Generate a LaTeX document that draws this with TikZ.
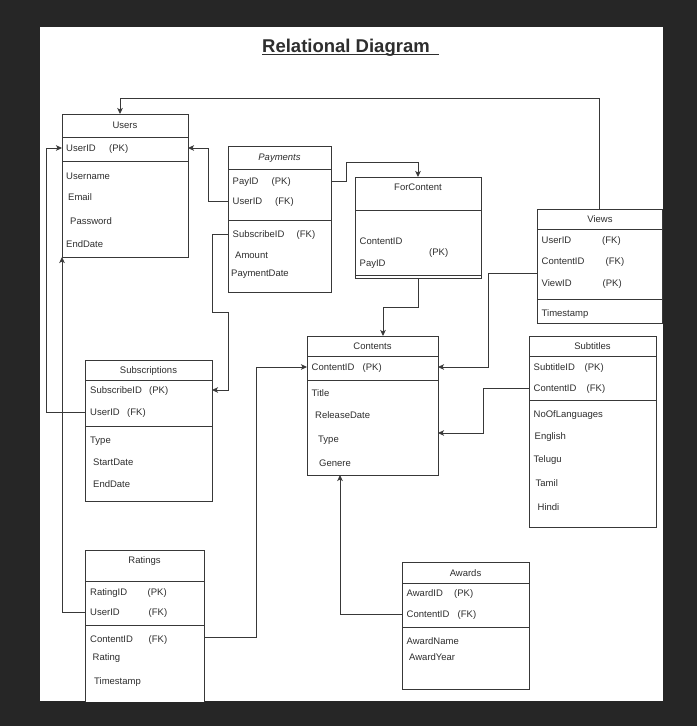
\documentclass[tikz,border=0pt]{standalone}
\usepackage{fontspec}
\setmainfont{Liberation Sans}
\usetikzlibrary{arrows.meta}
\definecolor{bgdark}{HTML}{262626}
\definecolor{ink}{HTML}{2E2E2E}
\definecolor{wire}{HTML}{383838}
\newcommand\tblsep[2]{\draw[sepl] (#1.west |- 0,#2) -- (#1.east |- 0,#2);}
\begin{document}
\begin{tikzpicture}[x=1pt,y=-1pt,
  tbox/.style 2 args={draw=wire,line width=0.9pt,fill=white,anchor=north west,inner sep=0pt,outer sep=0pt,minimum width=#1pt,minimum height=#2pt},
  fld/.style={anchor=west,inner sep=0pt,font=\fontsize{9.5}{11}\selectfont,text=ink,text height=6.8pt,text depth=0pt},
  hdr/.style={inner sep=0pt,font=\fontsize{9.5}{11}\selectfont,text=ink,text height=6.8pt,text depth=0pt},
  sepl/.style={draw=wire,line width=0.9pt},
  conn/.style={draw=wire,line width=0.9pt,-{Stealth[length=6pt,width=5.5pt,inset=1.5pt]}}]
\useasboundingbox (0,0) rectangle (697,726);
\fill[bgdark] (0,0) rectangle (697,726);
\fill[white] (40,27) rectangle (663,701);
\begin{scope}
\clip (40,27) rectangle (663,701);
% title
\node[anchor=base west,inner sep=0pt,font=\fontsize{18.5}{22}\selectfont\bfseries,text=ink] (title) at (262,52.5) {Relational Diagram};
\draw[ink,line width=1.3pt] ([yshift=-2.2pt]title.base west) -- ++(177,0);

% ---------------- Users
\node[tbox={126}{143}] (users) at (62,114) {};
\tblsep{users}{137.5}\tblsep{users}{161.5}
\node[hdr] (usersh) at (125,125.5) {Users};
\node[fld] (users-uid) at (66,148) {UserID};
\node[fld] (users-uidk) at (109,148) {(PK)};
\node[fld] (users-un) at (66,176) {Username};
\node[fld] (users-em) at (68,197) {Email};
\node[fld] (users-pw) at (70,221) {Password};
\node[fld] (users-ed) at (66,244) {EndDate};

% ---------------- Payments
\node[tbox={103}{146}] (pay) at (228,146) {};
\tblsep{pay}{169}\tblsep{pay}{220}
\node[hdr,font=\fontsize{9.5}{11}\selectfont\itshape] (payh) at (279.5,157) {Payments};
\node[fld] (pay-pid) at (232.5,181) {PayID};
\node[fld] (pay-pidk) at (271.5,181) {(PK)};
\node[fld] (pay-uid) at (232.5,201) {UserID};
\node[fld] (pay-uidk) at (275,201) {(FK)};
\node[fld] (pay-sid) at (232.5,234) {SubscribeID};
\node[fld] (pay-sidk) at (296.5,234) {(FK)};
\node[fld] (pay-am) at (235,255) {Amount};
\node[fld] (pay-pd) at (231,273) {PaymentDate};

% ---------------- ForContent
\node[tbox={126}{101}] (forc) at (355,177) {};
\tblsep{forc}{210}\tblsep{forc}{275}
\node[hdr] (forch) at (418,187.5) {ForContent};
\node[fld] (forc-cid) at (359.5,241) {ContentID};
\node[fld] (forc-pid) at (359.5,263) {PayID};
\node[fld] (forc-k) at (429,252) {(PK)};

% ---------------- Views
\node[tbox={125.5}{114}] (views) at (537,209) {};
\tblsep{views}{229}\tblsep{views}{299}
\node[hdr] (viewsh) at (600,219.5) {Views};
\node[fld] (views-uid) at (541.5,240) {UserID};
\node[fld] (views-uidk) at (602,240) {(FK)};
\node[fld] (views-cid) at (541.5,261) {ContentID};
\node[fld] (views-cidk) at (605.5,261) {(FK)};
\node[fld] (views-vid) at (541.5,283) {ViewID};
\node[fld] (views-vidk) at (602.5,283) {(PK)};
\node[fld] (views-ts) at (541.5,313) {Timestamp};

% ---------------- Subscriptions
\node[tbox={127}{141}] (subs) at (85,360) {};
\tblsep{subs}{380}\tblsep{subs}{426}
\node[hdr] (subsh) at (148.5,370.5) {Subscriptions};
\node[fld] (subs-sid) at (90,390) {SubscribeID};
\node[fld] (subs-sidk) at (149,390) {(PK)};
\node[fld] (subs-uid) at (90,412) {UserID};
\node[fld] (subs-uidk) at (127,412) {(FK)};
\node[fld] (subs-ty) at (90,440) {Type};
\node[fld] (subs-sd) at (93,462) {StartDate};
\node[fld] (subs-ed) at (93,484) {EndDate};

% ---------------- Contents
\node[tbox={131}{139}] (cont) at (307,336) {};
\tblsep{cont}{356}\tblsep{cont}{380}
\node[hdr] (conth) at (372.5,346.5) {Contents};
\node[fld] (cont-cid) at (311.5,367) {ContentID};
\node[fld] (cont-cidk) at (362.5,367) {(PK)};
\node[fld] (cont-ti) at (311.5,393) {Title};
\node[fld] (cont-rd) at (315,415) {ReleaseDate};
\node[fld] (cont-ty) at (318,439) {Type};
\node[fld] (cont-ge) at (319,463) {Genere};

% ---------------- Subtitles
\node[tbox={127}{191}] (subt) at (529,336) {};
\tblsep{subt}{356}\tblsep{subt}{400}
\node[hdr] (subth) at (592.5,346.5) {Subtitles};
\node[fld] (subt-sid) at (533.5,367) {SubtitleID};
\node[fld] (subt-sidk) at (584.5,367) {(PK)};
\node[fld] (subt-cid) at (533.5,388) {ContentID};
\node[fld] (subt-cidk) at (586.5,388) {(FK)};
\node[fld] (subt-nl) at (533.5,414) {NoOfLanguages};
\node[fld] (subt-en) at (534.5,436) {English};
\node[fld] (subt-te) at (533.5,459) {Telugu};
\node[fld] (subt-ta) at (535.5,483) {Tamil};
\node[fld] (subt-hi) at (537.5,507) {Hindi};

% ---------------- Ratings
\node[tbox={119}{153}] (rat) at (85,550) {};
\tblsep{rat}{581}\tblsep{rat}{625}
\node[hdr] (rath) at (144.5,560.5) {Ratings};
\node[fld] (rat-rid) at (90,592) {RatingID};
\node[fld] (rat-ridk) at (147.5,592) {(PK)};
\node[fld] (rat-uid) at (90,612) {UserID};
\node[fld] (rat-uidk) at (148.5,612) {(FK)};
\node[fld] (rat-cid) at (90,639) {ContentID};
\node[fld] (rat-cidk) at (148.5,639) {(FK)};
\node[fld] (rat-ra) at (92.5,657) {Rating};
\node[fld] (rat-ts) at (94,681) {Timestamp};

% ---------------- Awards
\node[tbox={127}{127}] (awd) at (402,562) {};
\tblsep{awd}{583}\tblsep{awd}{627}
\node[hdr] (awdh) at (465.5,573.5) {Awards};
\node[fld] (awd-aid) at (406.5,593) {AwardID};
\node[fld] (awd-aidk) at (454,593) {(PK)};
\node[fld] (awd-cid) at (406.5,614) {ContentID};
\node[fld] (awd-cidk) at (457.5,614) {(FK)};
\node[fld] (awd-an) at (406.5,641) {AwardName};
\node[fld] (awd-ay) at (409,657) {AwardYear};

% ---------------- connectors
\draw[conn] (views.north) -- (views.north |- 0,98) -| ([xshift=-5pt]users.north);
\draw[conn] (pay-uid -| pay.west) -- ++(-20,0) |- (users-uid -| users.east);
\draw[conn] (subs-uid -| subs.west) -- ++(-39,0) |- (users-uid -| users.west);
\draw[conn] (rat-uid -| rat.west) -| (users.south west);
\draw[conn] (pay-sid -| pay.west) -- ++(-16,0) -- ++(0,78) -- ++(16,0) |- (subs-sid -| subs.east);
\draw[conn] (pay-pid -| pay.east) -- ++(15,0) -- ++(0,-19) -| (forc.north);
\draw[conn] (forc.south) -- ++(0,29) -| ([xshift=10.5pt]cont.north);
\draw[conn] ([yshift=-7pt]views.west) -- ++(-49,0) |- (cont-cid -| cont.east);
\draw[conn] (subt-cid -| subt.west) -- ++(-46,0) |- ([yshift=-27.5pt]cont.east);
\draw[conn] ([yshift=2pt]rat-cid -| rat.east) -- ++(52,0) |- (cont-cid -| cont.west);
\draw[conn] (awd-cid -| awd.west) -| ([xshift=-32.5pt]cont.south);
\end{scope}
\end{tikzpicture}
\end{document}
